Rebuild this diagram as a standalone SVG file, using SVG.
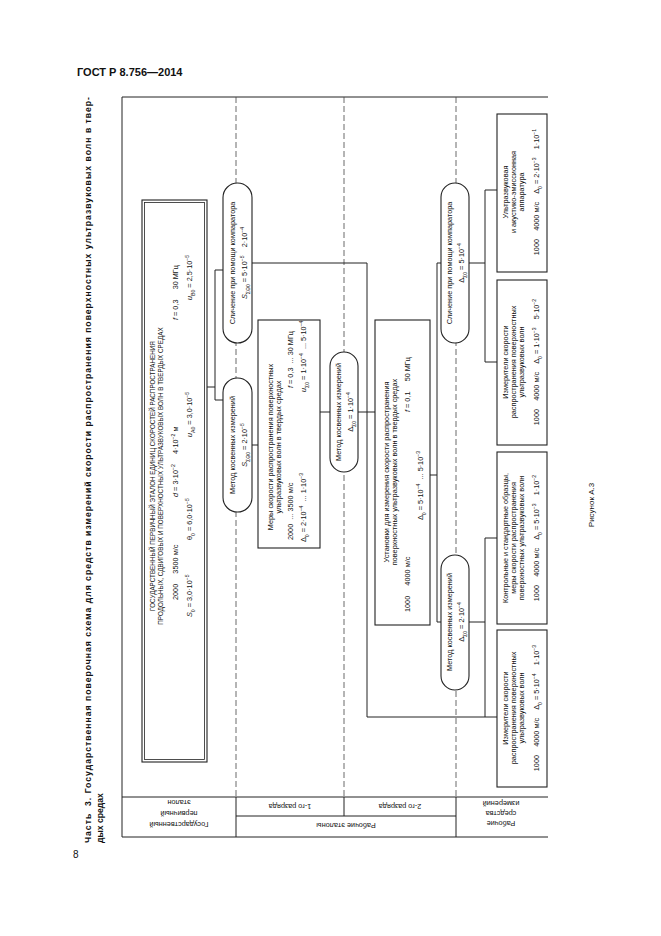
<svg xmlns="http://www.w3.org/2000/svg" width="661" height="936" viewBox="0 0 661 936">
<style>
text{font-family:"Liberation Sans",Arial,sans-serif;fill:#111;white-space:pre}
.t{font-size:7.3px}
.c{font-size:6.3px}
.m{text-anchor:middle}
.sup{baseline-shift:super;font-size:70%}
.sub{baseline-shift:sub;font-size:70%}
.ln{fill:none;stroke:#222;stroke-width:1}
.dash{stroke:#444;stroke-width:0.8;stroke-dasharray:6 3;fill:none}
.box{fill:#fff;stroke:#222;stroke-width:1.1}
</style>
<rect width="661" height="936" fill="#fff"/>
<text x="77" y="76" style="font-size:11px;font-weight:bold">ГОСТ Р 8.756—2014</text>
<text x="73" y="858" style="font-size:10px">8</text>
<g style="font-size:8.6px;font-weight:bold">
<text transform="translate(91 843) rotate(-90)" textLength="746" lengthAdjust="spacing">Часть  3. Государственная поверочная схема для средств измерений скорости распространения поверхностных ультразвуковых волн в твер-</text>
<text transform="translate(103 843) rotate(-90)">дых средах</text>
</g>
<text class="t m" transform="translate(594 505) rotate(-90)" style="font-size:8px">Рисунок А.3</text>

<g id="table">
<path class="ln" d="M122 97H548M122 837H548M122 97V837M122 797H548M236 816H456M236 797V837M344 797V816M456 797V837"/>
<path class="dash" d="M236 97V797M344 97V797M456 97V797"/>
<g class="t m">
<text transform="translate(179 800) rotate(180)">эталон</text>
<text transform="translate(179 811) rotate(180)">первичный</text>
<text transform="translate(179 822) rotate(180)">Государственный</text>
<text transform="translate(290 804) rotate(180)">1-го разряда</text>
<text transform="translate(400 804) rotate(180)">2-го разряда</text>
<text transform="translate(346 823) rotate(180)">Рабочие эталоны</text>
<text transform="translate(501 801) rotate(180)">измерений</text>
<text transform="translate(501 811) rotate(180)">средства</text>
<text transform="translate(501 821) rotate(180)">Рабочие</text>
</g>
</g>

<g id="connectors">
<path class="ln" d="M207 387H215M215 270V400M215 270H223M215 400H224M252 445H258M252 263H367V717H497M367 412H375M320 412H330M358 412H367M430 475H437M437 263V622M437 263H441M437 622H441M469 263H485M485 190V362M485 190H497M485 362H497M469 622H485M485 538V717M485 538H497"/>
</g>

<g id="primary">
<rect class="box" x="142" y="200" width="65" height="562"/>
<rect x="144.5" y="202.5" width="60" height="557" fill="none" stroke="#222" stroke-width="0.8"/>
<g class="c m">
<text transform="translate(155 476) rotate(-90)">ГОСУДАРСТВЕННЫЙ ПЕРВИЧНЫЙ ЭТАЛОН ЕДИНИЦ СКОРОСТЕЙ РАСПРОСТРАНЕНИЯ</text>
<text transform="translate(163 476) rotate(-90)">ПРОДОЛЬНЫХ, СДВИГОВЫХ И ПОВЕРХНОСТНЫХ УЛЬТРАЗВУКОВЫХ ВОЛН В ТВЕРДЫХ СРЕДАХ</text>
</g>
<g class="t">
<text transform="translate(178 600) rotate(-90)">2000     3500 м/с</text>
<text transform="translate(178 497) rotate(-90)"><tspan font-style="italic">d</tspan> = 3·10<tspan class="sup">−2</tspan>     4·10<tspan class="sup">−2</tspan> м</text>
<text transform="translate(178 320) rotate(-90)"><tspan font-style="italic">f</tspan> = 0,3     30 МГц</text>
<text transform="translate(192 617) rotate(-90)"><tspan font-style="italic">S</tspan><tspan class="sub">0</tspan> = 3,0·10<tspan class="sup">−5</tspan></text>
<text transform="translate(192 540) rotate(-90)">θ<tspan class="sub">0</tspan> = 6,0·10<tspan class="sup">−5</tspan></text>
<text transform="translate(192 437) rotate(-90)"><tspan font-style="italic">u</tspan><tspan class="sub">A0</tspan> = 3,0·10<tspan class="sup">−5</tspan></text>
<text transform="translate(192 300) rotate(-90)"><tspan font-style="italic">u</tspan><tspan class="sub">B0</tspan> = 2,5·10<tspan class="sup">−5</tspan></text>
</g>
</g>

<g id="pill1">
<rect class="box" x="223" y="378" width="29" height="134" rx="14.5"/>
<text class="t m" transform="translate(235 445) rotate(-90)">Метод косвенных измерений</text>
<text class="t m" transform="translate(247 445) rotate(-90)"><tspan font-style="italic">S</tspan><tspan class="sub">ΣΘ0</tspan> = 2·10<tspan class="sup">−5</tspan></text>
</g>
<g id="pill2">
<rect class="box" x="223" y="183" width="29" height="160" rx="14.5"/>
<text class="t m" transform="translate(235 263) rotate(-90)">Сличение при помощи компаратора</text>
<text class="t m" transform="translate(247 263) rotate(-90)"><tspan font-style="italic">S</tspan><tspan class="sub">ΣΘ0</tspan> = 5·10<tspan class="sup">−5</tspan>    2·10<tspan class="sup">−4</tspan></text>
</g>

<g id="measures1">
<rect class="box" x="258" y="320" width="62" height="228"/>
<text class="t m" transform="translate(273 447) rotate(-90)">Меры скорости распространения поверхностных</text>
<text class="t m" transform="translate(281 447) rotate(-90)">ультразвуковых волн в твердых средах</text>
<text class="t" transform="translate(293 540) rotate(-90)">2000  ... 3500 м/с</text>
<text class="t" transform="translate(293 388) rotate(-90)"><tspan font-style="italic">f</tspan> = 0,3  ... 30 МГц</text>
<text class="t" transform="translate(306 542) rotate(-90)">Δ<tspan class="sub">0</tspan> = 2·10<tspan class="sup">−4</tspan>  ... 1·10<tspan class="sup">−3</tspan></text>
<text class="t" transform="translate(306 392) rotate(-90)"><tspan font-style="italic">u</tspan><tspan class="sub">Σ0</tspan> = 1·10<tspan class="sup">−4</tspan>  ... 5·10<tspan class="sup">−4</tspan></text>
</g>

<g id="pill3">
<rect class="box" x="330" y="352" width="28" height="120" rx="14"/>
<text class="t m" transform="translate(341 412) rotate(-90)">Метод косвенных измерений</text>
<text class="t m" transform="translate(353 412) rotate(-90)">Δ<tspan class="sub">Σ0</tspan> = 1·10<tspan class="sup">−4</tspan></text>
</g>

<g id="setups2">
<rect class="box" x="375" y="320" width="55" height="305"/>
<text class="t m" transform="translate(389 472) rotate(-90)">Установки для измерения скорости распространения</text>
<text class="t m" transform="translate(397 472) rotate(-90)">поверхностных ультразвуковых волн в твердых средах</text>
<text class="t" transform="translate(410 612) rotate(-90)">1000     4000 м/с</text>
<text class="t" transform="translate(410 412) rotate(-90)"><tspan font-style="italic">f</tspan> = 0,1     50 МГц</text>
<text class="t" transform="translate(423 520) rotate(-90)">Δ<tspan class="sub">0</tspan> = 5·10<tspan class="sup">−4</tspan>  ... 5·10<tspan class="sup">−3</tspan></text>
</g>

<g id="pill4">
<rect class="box" x="441" y="555" width="28" height="135" rx="14"/>
<text class="t m" transform="translate(452 622) rotate(-90)">Метод косвенных измерений</text>
<text class="t m" transform="translate(464 622) rotate(-90)">Δ<tspan class="sub">Σ0</tspan> = 2·10<tspan class="sup">−4</tspan></text>
</g>
<g id="pill5">
<rect class="box" x="441" y="183" width="28" height="160" rx="14"/>
<text class="t m" transform="translate(452 263) rotate(-90)">Сличение при помощи компаратора</text>
<text class="t m" transform="translate(464 263) rotate(-90)">Δ<tspan class="sub">Σ0</tspan> = 5·10<tspan class="sup">−4</tspan></text>
</g>

<g id="w1">
<rect class="box" x="497" y="114" width="50" height="158"/>
<text class="t m" transform="translate(508 192) rotate(-90)">Ультразвуковая</text>
<text class="t m" transform="translate(516 192) rotate(-90)">и акустико-эмиссионная</text>
<text class="t m" transform="translate(524 192) rotate(-90)">аппаратура</text>
<text class="t m" transform="translate(539 192) rotate(-90)">1000    4000 м/с    Δ<tspan class="sub">0</tspan> = 2·10<tspan class="sup">−3</tspan>    1·10<tspan class="sup">−1</tspan></text>
</g>
<g id="w2">
<rect class="box" x="497" y="280" width="50" height="165"/>
<text class="t m" transform="translate(508 362) rotate(-90)">Измерители скорости</text>
<text class="t m" transform="translate(516 362) rotate(-90)">распространения поверхностных</text>
<text class="t m" transform="translate(524 362) rotate(-90)">ультразвуковых волн</text>
<text class="t m" transform="translate(539 362) rotate(-90)">1000    4000 м/с    Δ<tspan class="sub">0</tspan> = 1·10<tspan class="sup">−3</tspan>    5·10<tspan class="sup">−2</tspan></text>
</g>
<g id="w3">
<rect class="box" x="497" y="452" width="50" height="172"/>
<text class="t m" transform="translate(508 538) rotate(-90)">Контрольные и стандартные образцы,</text>
<text class="t m" transform="translate(516 538) rotate(-90)">меры скорости распространения</text>
<text class="t m" transform="translate(524 538) rotate(-90)">поверхностных ультразвуковых волн</text>
<text class="t m" transform="translate(539 538) rotate(-90)">1000    4000 м/с    Δ<tspan class="sub">0</tspan> = 5·10<tspan class="sup">−3</tspan>    1·10<tspan class="sup">−2</tspan></text>
</g>
<g id="w4">
<rect class="box" x="497" y="630" width="50" height="157"/>
<text class="t m" transform="translate(508 708) rotate(-90)">Измерители скорости</text>
<text class="t m" transform="translate(516 708) rotate(-90)">распространения поверхностных</text>
<text class="t m" transform="translate(524 708) rotate(-90)">ультразвуковых волн</text>
<text class="t m" transform="translate(539 708) rotate(-90)">1000    4000 м/с    Δ<tspan class="sub">0</tspan> = 5·10<tspan class="sup">−4</tspan>    1·10<tspan class="sup">−3</tspan></text>
</g>
</svg>
